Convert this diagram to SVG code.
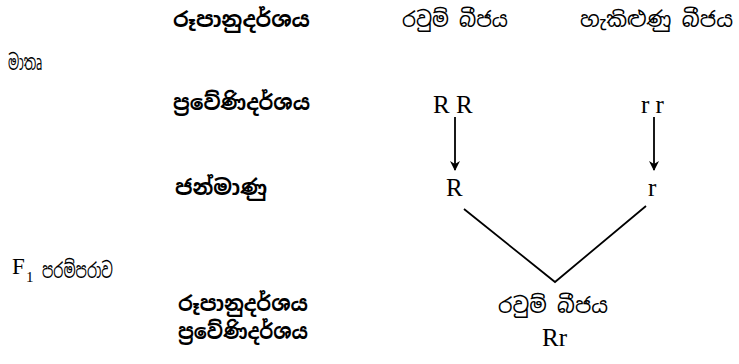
<svg xmlns="http://www.w3.org/2000/svg" width="739" height="364" viewBox="0 0 739 364">
<style>
.si{font-family:"Noto Sans Sinhala","Noto Sans","DejaVu Sans",sans-serif;font-size:21px;fill:#000}
.b{font-weight:bold}
.lt{font-family:"Liberation Serif","Times New Roman",serif;font-size:25px;fill:#000}
.ln{stroke:#000;stroke-width:1.8;fill:none}
</style>
<defs>
<marker id="ah" viewBox="0 0 10 12" refX="9" refY="6" markerWidth="10" markerHeight="12" markerUnits="userSpaceOnUse" orient="auto">
<path d="M0,1 L10,6 L0,11 L3,6 Z" fill="#000"/>
</marker>
</defs>
<rect width="739" height="364" fill="#fff"/>
<g id="labels">
<text class="si b" x="173" y="27" textLength="137" lengthAdjust="spacingAndGlyphs">රූපානුදර්ශය</text>
<text class="si" x="8" y="70" textLength="34" lengthAdjust="spacingAndGlyphs">මාතෘ</text>
<text class="si b" x="173" y="110" textLength="137" lengthAdjust="spacingAndGlyphs">ප්‍රවේණිදර්ශය</text>
<text class="si b" x="175" y="195" textLength="92" lengthAdjust="spacingAndGlyphs">ජන්මාණු</text>
<text class="lt" x="12" y="274" style="font-size:23px">F</text>
<text class="lt" x="26" y="282" style="font-size:15px">1</text>
<text class="si" x="42" y="278" textLength="71" lengthAdjust="spacingAndGlyphs">පරම්පරාව</text>
<text class="si b" x="178" y="311" textLength="130" lengthAdjust="spacingAndGlyphs">රූපානුදර්ශය</text>
<text class="si b" x="178" y="339" textLength="130" lengthAdjust="spacingAndGlyphs">ප්‍රවේණිදර්ශය</text>
</g>
<g id="node-round-parent">
<text class="si" x="402" y="27" textLength="106" lengthAdjust="spacingAndGlyphs">රවුම් බීජය</text>
<text class="lt" x="433" y="113">R R</text>
</g>
<g id="node-wrinkled-parent">
<text class="si" x="580" y="27" textLength="153" lengthAdjust="spacingAndGlyphs">හැකිළුණු බීජය</text>
<text class="lt" x="641" y="113">r r</text>
</g>
<g id="node-gamete-R">
<text class="lt" x="446" y="196">R</text>
</g>
<g id="node-gamete-r">
<text class="lt" x="648" y="196">r</text>
</g>
<g id="node-f1">
<text class="si" x="498" y="313" textLength="110" lengthAdjust="spacingAndGlyphs">රවුම් බීජය</text>
<text class="lt" x="542" y="346">Rr</text>
</g>
<g id="connectors">
<line class="ln" x1="455" y1="117" x2="455" y2="170" marker-end="url(#ah)"/>
<line class="ln" x1="654" y1="117" x2="654" y2="170" marker-end="url(#ah)"/>
<polyline class="ln" points="464,209 555,282 646,206"/>
</g>
</svg>
